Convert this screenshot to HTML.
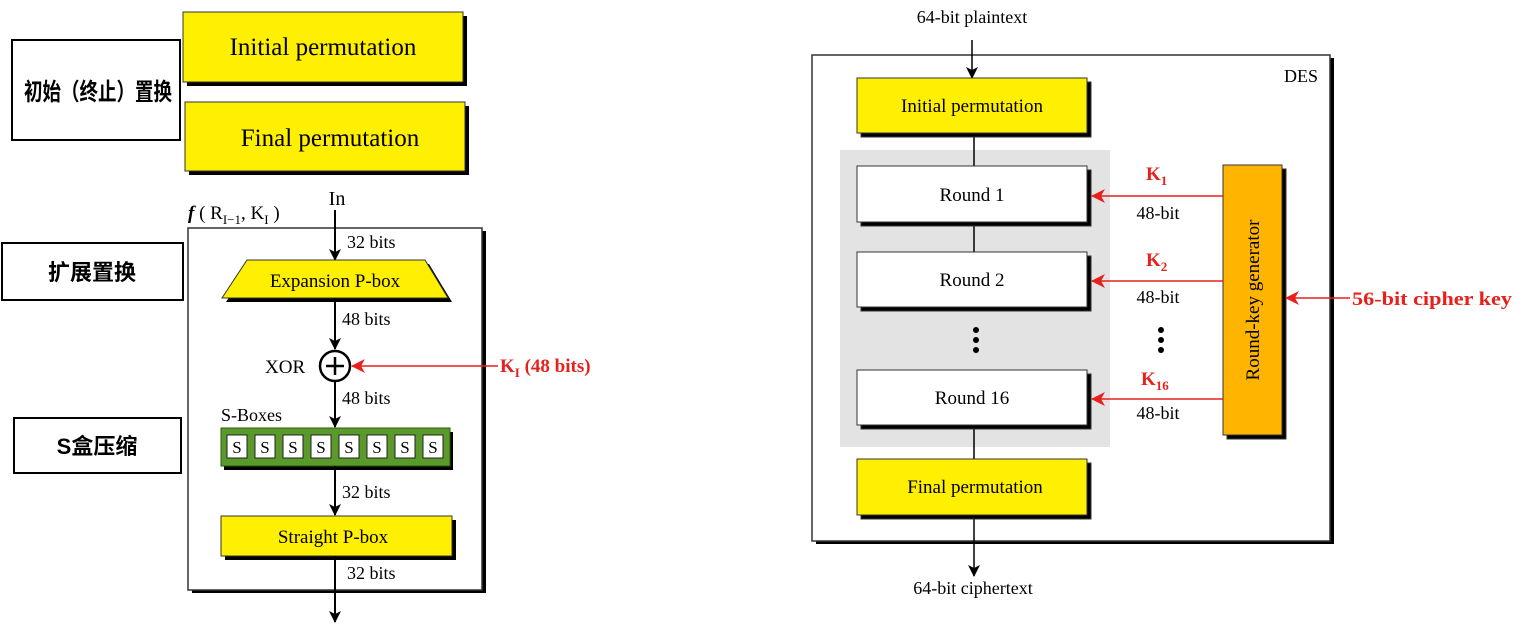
<!DOCTYPE html>
<html><head><meta charset="utf-8"><style>
html,body{margin:0;padding:0;background:#fff;}
svg{display:block;}
text{font-family:"Liberation Serif","Noto Serif CJK SC",serif;}
.cn{font-family:"Liberation Sans","Noto Sans CJK SC",sans-serif;}
</style></head><body>
<svg width="1525" height="625" viewBox="0 0 1525 625" xmlns="http://www.w3.org/2000/svg">
<defs>
<marker id="ab" markerWidth="12" markerHeight="14" refX="11" refY="7" orient="auto" markerUnits="userSpaceOnUse"><path d="M0,1 L12,7 L0,13 L3,7 Z" fill="#000"/></marker>
<marker id="ar" markerWidth="14" markerHeight="14" refX="13" refY="7" orient="auto" markerUnits="userSpaceOnUse"><path d="M0,0 L14,7 L0,14 L4,7 Z" fill="#e8201c"/></marker>
</defs>

<!-- LEFT -->
<rect x="12" y="40" width="168" height="100" fill="#fff" stroke="#000" stroke-width="2"/>
<text x="24" y="100" class="cn" font-size="24" font-weight="bold" textLength="148" lengthAdjust="spacingAndGlyphs">初始（终止）置换</text>
<rect x="2" y="243" width="181" height="57" fill="#fff" stroke="#000" stroke-width="2"/>
<text x="92" y="280" class="cn" font-size="22" font-weight="bold" text-anchor="middle">扩展置换</text>
<rect x="14" y="418" width="167" height="55" fill="#fff" stroke="#000" stroke-width="2"/>
<text x="97" y="454" class="cn" font-size="22" font-weight="bold" text-anchor="middle">S盒压缩</text>

<rect x="187" y="16" width="280" height="70" fill="#000"/>
<rect x="183" y="12" width="280" height="70" fill="#ffef00" stroke="#333" stroke-width="1"/>
<text x="323" y="55" font-size="25" text-anchor="middle">Initial permutation</text>
<rect x="189" y="106" width="280" height="69" fill="#000"/>
<rect x="185" y="102" width="280" height="69" fill="#ffef00" stroke="#333" stroke-width="1"/>
<text x="330" y="146" font-size="25" text-anchor="middle">Final permutation</text>

<rect x="192" y="231" width="294" height="362" fill="#000"/>
<rect x="188" y="228" width="294" height="362" fill="#fff" stroke="#333" stroke-width="1.5"/>
<text x="337" y="205" font-size="20" text-anchor="middle">In</text>
<text x="188" y="219" font-size="19"><tspan font-weight="bold" font-style="italic">f</tspan> ( R<tspan font-size="13" dy="5">I−1</tspan><tspan dy="-5">, K</tspan><tspan font-size="13" dy="5">I</tspan><tspan dy="-5"> )</tspan></text>
<line x1="335" y1="210" x2="335" y2="260" stroke="#000" stroke-width="2" marker-end="url(#ab)"/>
<text x="347" y="248" font-size="18">32 bits</text>
<polygon points="251,264 429,264 452,302 226,302" fill="#000"/>
<polygon points="247,260 425,260 448,298 222,298" fill="#ffef00" stroke="#333" stroke-width="1"/>
<text x="335" y="287" font-size="19" text-anchor="middle">Expansion P-box</text>
<line x1="335" y1="298" x2="335" y2="349" stroke="#000" stroke-width="2" marker-end="url(#ab)"/>
<text x="342" y="325" font-size="18">48 bits</text>
<circle cx="335" cy="366" r="15" fill="#fff" stroke="#000" stroke-width="2.5"/>
<line x1="326" y1="366" x2="344" y2="366" stroke="#000" stroke-width="2.5"/>
<line x1="335" y1="357" x2="335" y2="375" stroke="#000" stroke-width="2.5"/>
<text x="265" y="373" font-size="19">XOR</text>
<line x1="498" y1="366" x2="352" y2="366" stroke="#e8201c" stroke-width="1.5" marker-end="url(#ar)"/>
<text x="500" y="372" font-size="19" font-weight="bold" fill="#e8201c">K<tspan font-size="13" dy="5">I</tspan><tspan dy="-5"> (48 bits)</tspan></text>
<line x1="335" y1="381" x2="335" y2="427" stroke="#000" stroke-width="2" marker-end="url(#ab)"/>
<text x="342" y="404" font-size="18">48 bits</text>
<text x="221" y="421" font-size="18">S-Boxes</text>
<rect x="224" y="432" width="229" height="38" fill="#000"/>
<rect x="221" y="428" width="229" height="38" fill="#5a9a2a" stroke="#2a5a10" stroke-width="1"/>
<g font-size="17" text-anchor="middle">
<rect x="227" y="435" width="20" height="23" fill="#fff" stroke="#222"/><text x="237" y="453">S</text>
<rect x="255" y="435" width="20" height="23" fill="#fff" stroke="#222"/><text x="265" y="453">S</text>
<rect x="283" y="435" width="20" height="23" fill="#fff" stroke="#222"/><text x="293" y="453">S</text>
<rect x="311" y="435" width="20" height="23" fill="#fff" stroke="#222"/><text x="321" y="453">S</text>
<rect x="339" y="435" width="20" height="23" fill="#fff" stroke="#222"/><text x="349" y="453">S</text>
<rect x="367" y="435" width="20" height="23" fill="#fff" stroke="#222"/><text x="377" y="453">S</text>
<rect x="395" y="435" width="20" height="23" fill="#fff" stroke="#222"/><text x="405" y="453">S</text>
<rect x="423" y="435" width="20" height="23" fill="#fff" stroke="#222"/><text x="433" y="453">S</text>
</g>
<line x1="335" y1="466" x2="335" y2="515" stroke="#000" stroke-width="2" marker-end="url(#ab)"/>
<text x="342" y="498" font-size="18">32 bits</text>
<rect x="225" y="520" width="231" height="40" fill="#000"/>
<rect x="221" y="516" width="231" height="40" fill="#ffef00" stroke="#333" stroke-width="1"/>
<text x="333" y="543" font-size="19" text-anchor="middle">Straight P-box</text>
<line x1="335" y1="556" x2="335" y2="622" stroke="#000" stroke-width="2" marker-end="url(#ab)"/>
<text x="347" y="579" font-size="18">32 bits</text>

<!-- RIGHT -->
<text x="972" y="23" font-size="18" text-anchor="middle">64-bit plaintext</text>
<rect x="816" y="58" width="518" height="486" fill="#000"/>
<rect x="812" y="55" width="518" height="486" fill="#fff" stroke="#333" stroke-width="1.5"/>
<text x="1318" y="82" font-size="18" text-anchor="end">DES</text>
<line x1="972" y1="40" x2="972" y2="78" stroke="#000" stroke-width="1.5" marker-end="url(#ab)"/>
<rect x="840" y="150" width="270" height="297" fill="#e3e3e3"/>
<g stroke="#000" stroke-width="1.5">
<line x1="974" y1="133" x2="974" y2="166"/>
<line x1="974" y1="222" x2="974" y2="252"/>
<line x1="974" y1="425" x2="974" y2="459"/>
<line x1="974" y1="515" x2="974" y2="576" marker-end="url(#ab)"/>
</g>
<g stroke="#333" stroke-width="1">
<rect x="861" y="82" width="230" height="55" fill="#000"/>
<rect x="857" y="78" width="230" height="55" fill="#ffef00"/>
<rect x="861" y="170" width="230" height="56" fill="#000"/>
<rect x="857" y="166" width="230" height="56" fill="#fff"/>
<rect x="861" y="256" width="230" height="55" fill="#000"/>
<rect x="857" y="252" width="230" height="55" fill="#fff"/>
<rect x="861" y="374" width="230" height="55" fill="#000"/>
<rect x="857" y="370" width="230" height="55" fill="#fff"/>
<rect x="861" y="463" width="230" height="56" fill="#000"/>
<rect x="857" y="459" width="230" height="56" fill="#ffef00"/>
<rect x="1227" y="169" width="59" height="270" fill="#000"/>
<rect x="1223" y="165" width="59" height="270" fill="#ffb400"/>
</g>
<g font-size="19" text-anchor="middle">
<text x="972" y="112">Initial permutation</text>
<text x="972" y="201">Round 1</text>
<text x="972" y="286">Round 2</text>
<text x="972" y="404">Round 16</text>
<text x="975" y="493">Final permutation</text>
<text x="1158" y="219" font-size="18">48-bit</text>
<text x="1158" y="303" font-size="18">48-bit</text>
<text x="1158" y="419" font-size="18">48-bit</text>
</g>
<text transform="translate(1259,300) rotate(-90)" font-size="19" text-anchor="middle">Round-key generator</text>
<g fill="#000">
<circle cx="976" cy="330" r="3"/><circle cx="976" cy="340" r="3"/><circle cx="976" cy="350" r="3"/>
<circle cx="1161" cy="330" r="3"/><circle cx="1161" cy="340" r="3"/><circle cx="1161" cy="350" r="3"/>
</g>
<g stroke="#e8201c" stroke-width="1.5">
<line x1="1223" y1="196" x2="1092" y2="196" marker-end="url(#ar)"/>
<line x1="1223" y1="281" x2="1092" y2="281" marker-end="url(#ar)"/>
<line x1="1223" y1="399" x2="1092" y2="399" marker-end="url(#ar)"/>
<line x1="1350" y1="298" x2="1286" y2="298" marker-end="url(#ar)"/>
</g>
<g fill="#e8201c" font-weight="bold" font-size="19">
<text x="1146" y="180">K<tspan font-size="13" dy="5">1</tspan></text>
<text x="1146" y="266">K<tspan font-size="13" dy="5">2</tspan></text>
<text x="1141" y="385">K<tspan font-size="13" dy="5">16</tspan></text>
<text x="1352" y="305" font-size="19" textLength="160" lengthAdjust="spacingAndGlyphs">56-bit cipher key</text>
</g>
<text x="973" y="594" font-size="18" text-anchor="middle">64-bit ciphertext</text>
</svg>
</body></html>
